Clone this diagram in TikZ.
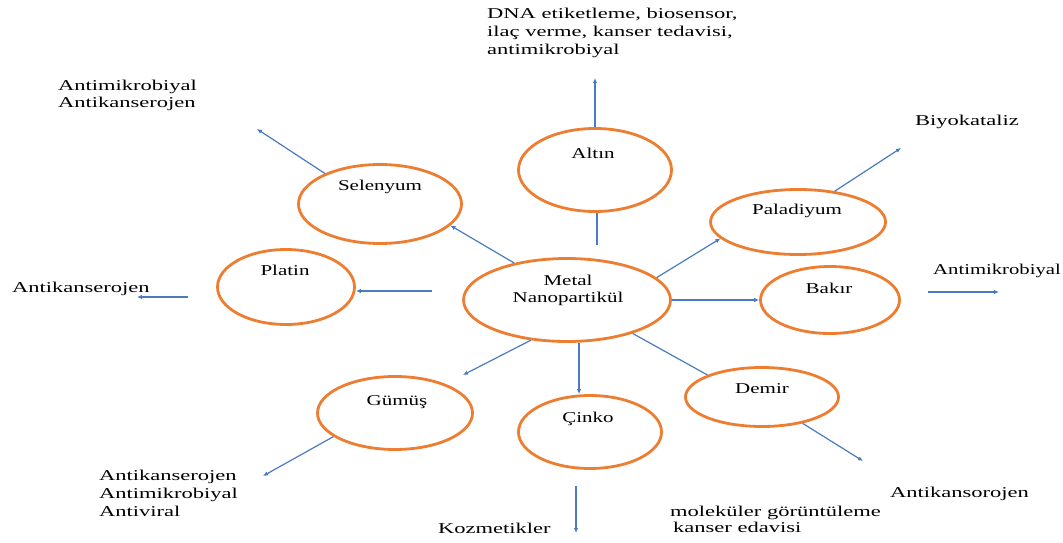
\documentclass[tikz,border=0pt]{standalone}
\usepackage{fontspec}
\usepackage{graphicx}
\setmainfont{Liberation Serif}
\usetikzlibrary{shapes.geometric,arrows.meta}
\definecolor{elorange}{RGB}{237,125,49}
\definecolor{arblue}{RGB}{74,122,192}
\newcommand{\wx}[1]{\scalebox{1.5}[1]{#1}}
\newcommand{\wi}[1]{\scalebox{1.4}[1]{#1}}
\begin{document}
\begin{tikzpicture}[x=1pt,y=-1pt,
  elli/.style={ellipse,draw=elorange,line width=2.8pt,inner sep=0pt},
  outlab/.style={font=\fontsize{15}{18}\selectfont,inner sep=0pt,anchor=north west,align=left},
  inlab/.style={font=\fontsize{15}{17}\selectfont,inner sep=0pt,anchor=base},
  ln/.style={draw=arblue,line width=1.2pt},
  arr/.style={ln,-{Latex[length=5pt,width=4.5pt]}}]
\useasboundingbox (0,0) rectangle (1063,543);
% ellipses
\node[elli,minimum width=153,minimum height=83] (altin) at (595,170) {};
\node[elli,minimum width=207,minimum height=83] (metal) at (567,300) {};
\node[elli,minimum width=163,minimum height=79] (selenyum) at (380,204) {};
\node[elli,minimum width=137,minimum height=75] (platin) at (286,287) {};
\node[elli,minimum width=175,minimum height=65] (paladiyum) at (798,222) {};
\node[elli,minimum width=139,minimum height=67] (bakir) at (830,300) {};
\node[elli,minimum width=153,minimum height=59] (demir) at (762,397) {};
\node[elli,minimum width=143,minimum height=73] (cinko) at (590,432) {};
\node[elli,minimum width=155,minimum height=73] (gumus) at (395,413) {};
% ellipse labels
\node[inlab] (taltin) at (593,158.5) {\wi{Altın}};
\node[inlab,anchor=north,align=center,font=\fontsize{15}{17}\selectfont] (tmetal) at (568,275) {\wi{Metal}\\\wi{Nanopartikül}};
\node[inlab] (tselenyum) at (380,190.5) {\wi{Selenyum}};
\node[inlab] (tplatin) at (285,275.5) {\wi{Platin}};
\node[inlab] (tpaladiyum) at (797,214.5) {\wi{Paladiyum}};
\node[inlab] (tbakir) at (829,293.5) {\wi{Bakır}};
\node[inlab] (tdemir) at (762,393.5) {\wi{Demir}};
\node[inlab] (tcinko) at (588,422.5) {\wi{Çinko}};
\node[inlab] (tgumus) at (397,405.5) {\wi{Gümüş}};
% outer labels
\node[outlab] (ltop) at (487,8) {\wx{DNA etiketleme, biosensor,}\\\wx{ilaç verme, kanser tedavisi,}\\\wx{antimikrobiyal}};
\node[outlab,font=\fontsize{15}{17}\selectfont] (lsel) at (58,80) {\wx{Antimikrobiyal}\\\wx{Antikanserojen}};
\node[outlab] (lplat) at (12,282) {\wx{Antikanserojen}};
\node[outlab] (lgum) at (99,470) {\wx{Antikanserojen}\\\wx{Antimikrobiyal}\\\wx{Antiviral}};
\node[outlab] (lkoz) at (438,523) {\wx{Kozmetikler}};
\node[outlab,font=\fontsize{15}{16}\selectfont] (ldem) at (670,506) {\wx{moleküler görüntüleme}\\\hspace*{3pt}\wx{kanser edavisi}};
\node[outlab] (lanti) at (890,487) {\wx{Antikansorojen}};
\node[outlab] (lbiyo) at (915,115) {\wx{Biyokataliz}};
\node[outlab] (lbak) at (933,264) {\scalebox{1.38}[1]{Antimikrobiyal}};
% connectors
\coordinate (altop) at (595,78);
\draw[arr] (altin.north) -- (altop);
\coordinate (ma) at (597,245);
\draw[ln] (ma) -- (ma |- altin.south);
\draw[arr] (metal.145) -- (selenyum.-17);
\coordinate (mp) at (432,291);
\draw[arr] (mp) -- (mp -| platin.east);
\coordinate (pa1) at (188,297);
\coordinate (pa2) at (137,297);
\draw[arr] (pa1) -- (pa2);
\coordinate (sa) at (257,129);
\draw[arr] (selenyum.151) -- (sa);
\draw[arr] (metal.14) -- (paladiyum.-168);
\draw[arr] (metal.east) -- (bakir.west);
\coordinate (pb) at (901,148);
\draw[arr] (paladiyum.40) -- (pb);
\coordinate (ba1) at (928,292);
\coordinate (ba2) at (999,292);
\draw[arr] (ba1) -- (ba2);
\coordinate (mg) at (463,375);
\draw[arr] (metal.-132) -- (mg);
\coordinate (mc) at (579,343);
\draw[arr] (mc) -- (mc |- cinko.north);
\draw[ln] (metal.-27) -- (demir.158);
\coordinate (da) at (863,461);
\draw[arr] (demir.-33) -- (da);
\coordinate (ck1) at (576,486);
\coordinate (ck2) at (576,533);
\draw[arr] (ck1) -- (ck2);
\coordinate (ga) at (263,476);
\draw[arr] (gumus.201) -- (ga);
\end{tikzpicture}
\end{document}
